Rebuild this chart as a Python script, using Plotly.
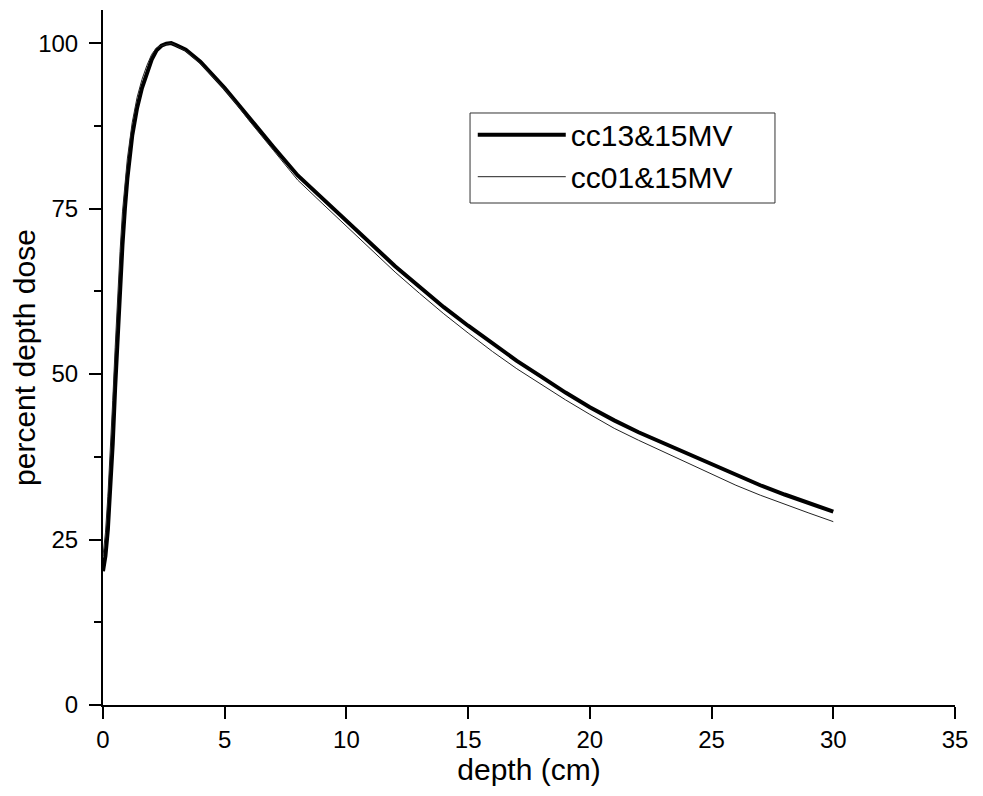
import plotly.graph_objects as go

# depth (cm)
depth_cc13 = [0, 0.1, 0.2, 0.3, 0.4, 0.5, 0.6, 0.7, 0.8, 0.9, 1.0, 1.2, 1.4, 1.6, 1.8,
              2.0, 2.2, 2.4, 2.6, 2.8, 3.0, 3.4, 4.0, 4.5, 5, 5.5, 6, 7, 8, 9, 10,
              11, 12, 13, 14, 15, 16, 17, 18, 19, 20, 21, 22, 23, 24, 25, 26, 27,
              28, 29, 30]
pdd_cc13 = [20.2, 22.5, 26.5, 32.5, 39.5, 48.0, 56.0, 63.0, 69.5, 75.0, 79.5, 86.0,
            90.2, 93.2, 95.6, 97.5, 98.9, 99.6, 99.9, 100.0, 99.7, 99.0, 97.2, 95.3,
            93.2, 91.0, 88.7, 84.3, 80.0, 76.6, 73.0, 69.6, 66.3, 63.2, 60.1, 57.3,
            54.6, 52.0, 49.6, 47.2, 45.0, 43.0, 41.2, 39.6, 38.0, 36.4, 34.7, 33.2,
            31.8, 30.5, 29.2]

depth_cc01 = [0, 0.1, 0.2, 0.3, 0.4, 0.5, 0.6, 0.7, 0.8, 0.9, 1.0, 1.2, 1.4, 1.6, 1.8,
              2.0, 2.2, 2.4, 2.6, 2.8, 3.0, 3.4, 4.0, 4.5, 5, 5.5, 6, 7, 8, 9, 10,
              11, 12, 13, 14, 15, 16, 17, 18, 19, 20, 21, 22, 23, 24, 25, 26, 27,
              28, 29, 30]
pdd_cc01 = [22.5, 26.0, 31.5, 38.0, 46.0, 54.0, 62.0, 68.5, 74.5, 79.0, 82.5, 88.0,
            91.8, 94.5, 96.6, 98.3, 99.3, 99.6, 99.8, 100.0, 99.6, 98.8, 96.9, 95.0,
            93.0, 90.7, 88.3, 83.8, 79.3, 75.8, 72.3, 68.8, 65.4, 62.2, 59.1, 56.2,
            53.4, 50.8, 48.4, 46.1, 43.9, 41.8, 40.0, 38.3, 36.7, 35.0, 33.2, 31.7,
            30.3, 29.0, 27.7]

x_ticks = [0, 5, 10, 15, 20, 25, 30, 35]
y_ticks = [0, 25, 50, 75, 100]

FONT = "Liberation Sans, Arial, sans-serif"

fig = go.Figure()
fig.add_trace(go.Scatter(x=depth_cc13, y=pdd_cc13, mode="lines", name="cc13&15MV",
                         line=dict(color="black", width=4)))
fig.add_trace(go.Scatter(x=depth_cc01, y=pdd_cc01, mode="lines", name="cc01&15MV",
                         line=dict(color="#222222", width=1)))

# legend frame (wider than plotly's own legend box, as in the original)
fig.add_shape(type="rect", xref="paper", yref="paper",
              x0=0.4308, x1=0.7887, y0=0.7223, y1=0.8518,
              line=dict(color="#333333", width=1), fillcolor="rgba(0,0,0,0)",
              layer="above")

fig.update_layout(
    width=975, height=788,
    margin=dict(l=95, r=28, t=2, b=91),
    paper_bgcolor="white", plot_bgcolor="white",
    font=dict(family=FONT, color="black"),
    showlegend=True,
    legend=dict(x=0.434, y=0.858, xanchor="left", yanchor="top",
                bgcolor="rgba(0,0,0,0)", borderwidth=0,
                font=dict(size=30, family=FONT), itemwidth=88,
                tracegroupgap=0),
    xaxis=dict(range=[0, 35], tickvals=x_ticks, showgrid=False, zeroline=False,
               showline=True, linecolor="black", linewidth=2,
               ticks="outside", ticklen=12, tickwidth=2, tickcolor="black",
               tickfont=dict(size=24, family=FONT),
               title=dict(text="depth (cm)", font=dict(size=30, family=FONT), standoff=6)),
    yaxis=dict(range=[0, 105], tickvals=y_ticks, showgrid=False, zeroline=False,
               showline=True, linecolor="black", linewidth=2,
               ticks="outside", ticklen=12, tickwidth=2, tickcolor="black",
               ticklabelstandoff=6,
               tickfont=dict(size=24, family=FONT),
               minor=dict(dtick=12.5, tick0=0, ticks="outside", ticklen=7,
                          tickwidth=2, tickcolor="black", showgrid=False),
               title=dict(text="percent depth dose", font=dict(size=30, family=FONT), standoff=1)),
)

fig.write_html("out.html")
